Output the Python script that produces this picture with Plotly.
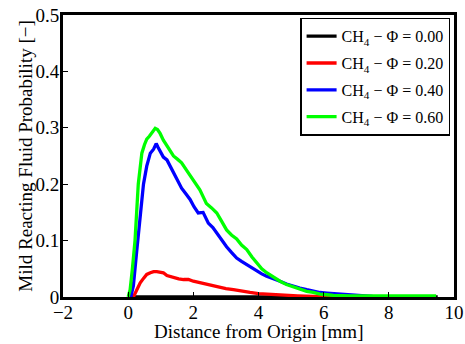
import plotly.graph_objects as go

# Data
x_phi000 = [0.0, 2.0, 4.0, 6.0, 8.0, 9.5]
y_phi000 = [0.0, 0.0, 0.0, 0.0, 0.0, 0.0]

x_phi020 = [0.16, 0.27, 0.37, 0.47, 0.57, 0.68, 0.78, 0.88, 0.98, 1.08, 1.19, 1.29, 1.39, 1.55, 1.7, 1.85, 2.0, 2.15,
            2.3, 2.5, 2.72, 3.0, 3.23, 3.5, 3.74, 4.0, 4.25, 4.55, 4.86, 5.2, 5.68, 6.0, 6.3]
y_phi020 = [0.0, 0.013, 0.025, 0.033, 0.04, 0.043, 0.045, 0.045, 0.044, 0.043, 0.038, 0.036, 0.034, 0.032, 0.031, 0.031, 0.028, 0.026,
            0.023, 0.021, 0.018, 0.015, 0.013, 0.01, 0.008, 0.006, 0.005, 0.004, 0.003, 0.002, 0.001, 0.0005, 0.0]

x_phi040 = [0.08, 0.16, 0.26, 0.37, 0.47, 0.57, 0.68, 0.78, 0.86, 0.92, 0.98, 1.08, 1.19, 1.29, 1.39, 1.5, 1.64, 1.77, 1.9,
            2.02, 2.15, 2.3, 2.38, 2.46, 2.6, 2.72, 2.87, 3.02, 3.17, 3.33, 3.48, 3.64, 3.8, 3.95, 4.1, 4.25, 4.45, 4.66,
            4.86, 5.07, 5.27, 5.48, 5.68, 5.89, 6.1, 6.3, 6.5, 6.7, 6.9, 7.1, 7.5, 8.0]
y_phi040 = [0.0, 0.02, 0.08, 0.15, 0.2, 0.232, 0.255, 0.262, 0.272, 0.265, 0.258, 0.248, 0.243, 0.232, 0.22, 0.208, 0.193, 0.183, 0.173,
            0.16, 0.149, 0.15, 0.14, 0.131, 0.123, 0.113, 0.101, 0.089, 0.079, 0.069, 0.063, 0.057, 0.051, 0.046, 0.041, 0.037, 0.033, 0.028,
            0.023, 0.019, 0.016, 0.013, 0.01, 0.008, 0.007, 0.006, 0.005, 0.004, 0.003, 0.002, 0.001, 0.0005]

x_phi060 = [0.0, 0.06, 0.13, 0.21, 0.31, 0.42, 0.5, 0.57, 0.65, 0.72, 0.78, 0.83, 0.9, 0.98, 1.08, 1.19, 1.29, 1.39, 1.52, 1.64,
            1.8, 2.0, 2.1, 2.2, 2.3, 2.4, 2.56, 2.72, 2.87, 3.02, 3.17, 3.33, 3.48, 3.64, 3.8, 3.95, 4.1, 4.25, 4.45, 4.66,
            4.86, 5.07, 5.27, 5.48, 5.68, 5.89, 6.1, 6.3, 6.8, 7.3, 8.0, 8.8, 9.45]
y_phi060 = [0.0, 0.013, 0.05, 0.1, 0.2, 0.255, 0.27, 0.28, 0.285, 0.29, 0.295, 0.299, 0.297, 0.29, 0.278, 0.268, 0.258, 0.25, 0.244, 0.238,
            0.224, 0.208, 0.2, 0.19, 0.178, 0.166, 0.158, 0.149, 0.134, 0.119, 0.11, 0.103, 0.092, 0.084, 0.071, 0.06, 0.05, 0.043, 0.035, 0.028,
            0.022, 0.018, 0.015, 0.01, 0.008, 0.005, 0.004, 0.003, 0.002, 0.002, 0.002, 0.002, 0.002]

series_names = ["CH<sub>4</sub> − Φ = 0.00", "CH<sub>4</sub> − Φ = 0.20",
                "CH<sub>4</sub> − Φ = 0.40", "CH<sub>4</sub> − Φ = 0.60"]
series_colors = ["#000000", "#ff0000", "#0000ff", "#00ff00"]

x_title = "Distance from Origin [mm]"
y_title = "Mild Reacting Fluid Probability [−]"

xs = [x_phi000, x_phi020, x_phi040, x_phi060]
ys = [y_phi000, y_phi020, y_phi040, y_phi060]

fig = go.Figure()
for i, (x, y, n, c) in enumerate(zip(xs, ys, series_names, series_colors)):
    fig.add_trace(go.Scatter(x=x, y=y, mode="lines", name=n, legendgroup=f"g{i}",
                             line=dict(color=c, width=3.3)))

font_family = "Liberation Serif, Times New Roman, serif"

fig.update_layout(
    width=465, height=344,
    margin=dict(l=63, r=11, t=15, b=47),
    paper_bgcolor="white", plot_bgcolor="white",
    font=dict(family=font_family, size=19, color="black"),
    showlegend=True,
    legend=dict(x=0.99, y=0.99, xanchor="right", yanchor="top",
                bordercolor="black", borderwidth=1.5, bgcolor="white",
                font=dict(family=font_family, size=16, color="black"),
                tracegroupgap=3, itemwidth=30),
    annotations=[
        dict(text=x_title, xref="paper", yref="paper", x=0.5, y=-0.124,
             xanchor="center", yanchor="middle", showarrow=False,
             font=dict(family=font_family, size=19, color="black")),
        dict(text=y_title, xref="paper", yref="paper", x=-0.097, y=0.498,
             xanchor="center", yanchor="middle", showarrow=False, textangle=-90,
             font=dict(family=font_family, size=19, color="black")),
    ],
)

fig.update_xaxes(
    range=[-2, 10], tickmode="linear", tick0=-2, dtick=2,
    ticks="inside", ticklen=5, tickwidth=1, tickcolor="black",
    showline=True, linewidth=3, linecolor="black", mirror=True,
    showgrid=False, zeroline=False, automargin=False,
    ticklabelstandoff=-4,
    tickfont=dict(family=font_family, size=19),
)
fig.update_yaxes(
    range=[0, 0.5], tickmode="linear", tick0=0, dtick=0.1,
    ticks="inside", ticklen=5, tickwidth=1, tickcolor="black",
    showline=True, linewidth=3, linecolor="black", mirror=True,
    showgrid=False, zeroline=False, automargin=False,
    ticklabelstandoff=-3,
    tickfont=dict(family=font_family, size=19),
)

fig.write_html("out.html")
